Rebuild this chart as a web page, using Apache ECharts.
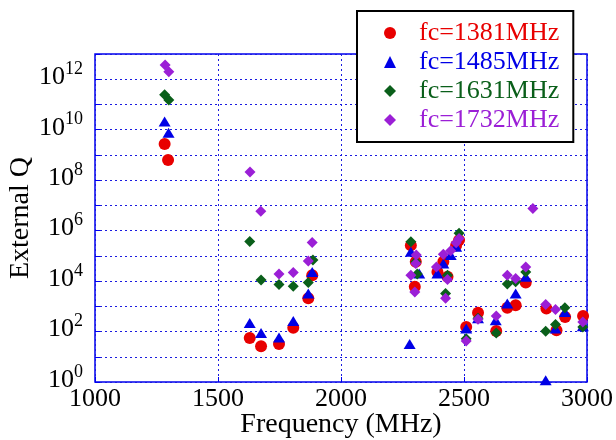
<!DOCTYPE html>
<html><head><meta charset="utf-8">
<script src="https://cdn.jsdelivr.net/npm/echarts@6/dist/echarts.min.js"></script>
<style>html,body{margin:0;padding:0;background:#fff}#c{width:616px;height:440px}</style>
</head><body><div id="c"></div>
<script>
const seriesNames = ['fc=1381MHz', 'fc=1485MHz', 'fc=1631MHz', 'fc=1732MHz'];
const xTicks = [1000, 1500, 2000, 2500, 3000];
const yExponents = [0, 2, 4, 6, 8, 10, 12];

const redFreq = [1283,1297,1629,1675,1748,1806,1867,1883,2284,2304,2300,2392,2416,2433,2468,2480,2509,2557,2631,2676,2710,2751,2835,2876,2911,2984];
const redQ = [2.7e9,6.3e8,56,26,32,140,2100,1.7e4,2.6e5,5.8e4,5900,2.3e4,5.8e4,1.5e4,2.6e5,4.2e5,150,560,105,870,1100,8700,810,112,380,410];

const blueFreq = [1283,1299,1629,1675,1748,1806,1867,1883,2279,2284,2318,2392,2416,2446,2468,2509,2557,2629,2676,2710,2751,2832,2872,2910,2983];
const blueQ = [2.1e10,7.6e9,220,87,58,260,3200,2.3e4,32,1.45e5,2.0e4,2.0e4,5.0e4,1.07e5,2.3e5,132,340,280,1300,3200,1.5e4,1.17,132,590,162];

const greenFreq = [1283,1300,1629,1675,1748,1806,1867,1886,2284,2304,2310,2425,2433,2480,2509,2557,2631,2676,2710,2751,2832,2872,2910,2983];
const greenQ = [2.4e11,1.5e11,3.7e5,1.1e4,7400,6300,8700,6.8e4,3.6e5,5.8e4,1.9e4,3200,1.7e4,7.8e5,52,340,87,7600,9300,2.3e4,102,190,870,150];

const purpleFreq = [1285,1300,1630,1674,1748,1806,1867,1883,2284,2300,2304,2306,2388,2416,2425,2433,2446,2468,2480,2509,2557,2631,2676,2710,2751,2780,2832,2872,2983];
const purpleQ = [3.7e12,2.0e12,2.1e8,5.9e6,1.9e4,2.2e4,6.2e4,3.4e5,1.7e4,3700,5.0e4,1.07e5,3.6e4,1.15e5,2100,1.15e4,1.6e5,3.3e5,4.9e5,42,310,410,1.7e4,1.26e4,3.6e4,7.6e6,1170,740,240];

const colors = ['#e80000', '#0000e6', '#0a5f1a', '#9b1fd6'];
const symbols = ['circle', 'triangle', 'diamond', 'diamond'];
const sizes = [12, [12, 10], 11, 11];
const FONT = 'Liberation Serif';

function pts(f, q) { return f.map((x, i) => [x, Math.log10(q[i])]); }
const allData = [pts(redFreq, redQ), pts(blueFreq, blueQ), pts(greenFreq, greenQ), pts(purpleFreq, purpleQ)];

const chart = echarts.init(document.getElementById('c'), null, {renderer: 'canvas'});
const gridColor = '#1a1ae0';
chart.setOption({
  animation: false,
  backgroundColor: '#fff',
  grid: {left: 95, right: 29, top: 54, bottom: 58, containLabel: false, outerBoundsMode: 'none',
         show: true, borderColor: '#0000ee', borderWidth: 1.5, backgroundColor: 'transparent'},
  xAxis: {
    type: 'value', min: xTicks[0], max: xTicks[xTicks.length - 1], interval: 500,
    axisLine: {show: false},
    axisTick: {show: true, inside: true, length: 5, lineStyle: {color: '#0000ee'}},
    axisLabel: {fontFamily: FONT, fontSize: 26, color: '#000', margin: 4, formatter: function (v) { return String(v); }},
    splitLine: {show: true, lineStyle: {color: gridColor, type: [2, 3], width: 1}},
    name: 'Frequency (MHz)', nameLocation: 'middle', nameGap: 29, nameMoveOverlap: false,
    nameTextStyle: {fontFamily: FONT, fontSize: 28, color: '#000'}
  },
  yAxis: {
    type: 'value', min: 0, max: 13, interval: 1,
    axisLine: {show: false},
    axisTick: {show: true, inside: true, length: 5, lineStyle: {color: '#0000ee'}},
    axisLabel: {
      margin: 12, padding: [0, 0, 8, 0],
      formatter: function (v) { return yExponents.indexOf(v) >= 0 ? '{b|10}{s|' + v + '}' : ''; },
      rich: {
        b: {fontFamily: FONT, fontSize: 26, color: '#000', lineHeight: 30, verticalAlign: 'bottom'},
        s: {fontFamily: FONT, fontSize: 18, color: '#000', lineHeight: 18, verticalAlign: 'top'}
      }
    },
    splitLine: {show: true, lineStyle: {color: gridColor, type: [2, 3], width: 1}},
    name: 'External Q', nameLocation: 'middle', nameGap: 60, nameRotate: 90, nameMoveOverlap: false,
    nameTextStyle: {fontFamily: FONT, fontSize: 28, color: '#000'}
  },
  legend: {
    orient: 'vertical', left: 357, top: 11,
    padding: [8, 14, 8, 27],
    itemWidth: 12, itemHeight: 12, itemGap: 1,
    borderColor: '#000', borderWidth: 2, backgroundColor: '#fff', borderRadius: 0,
    textStyle: {fontFamily: FONT, fontSize: 26, lineHeight: 28, padding: [0, 0, 0, 18]},
    data: seriesNames.map((n, i) => ({name: n, icon: symbols[i], itemStyle: {color: colors[i]}, textStyle: {color: colors[i]}}))
  },
  series: seriesNames.map((n, i) => ({
    name: n, type: 'scatter', data: allData[i],
    symbol: symbols[i], symbolSize: sizes[i],
    itemStyle: {color: colors[i], opacity: 1},
    z: 2 + i
  }))
});
</script></body></html>
